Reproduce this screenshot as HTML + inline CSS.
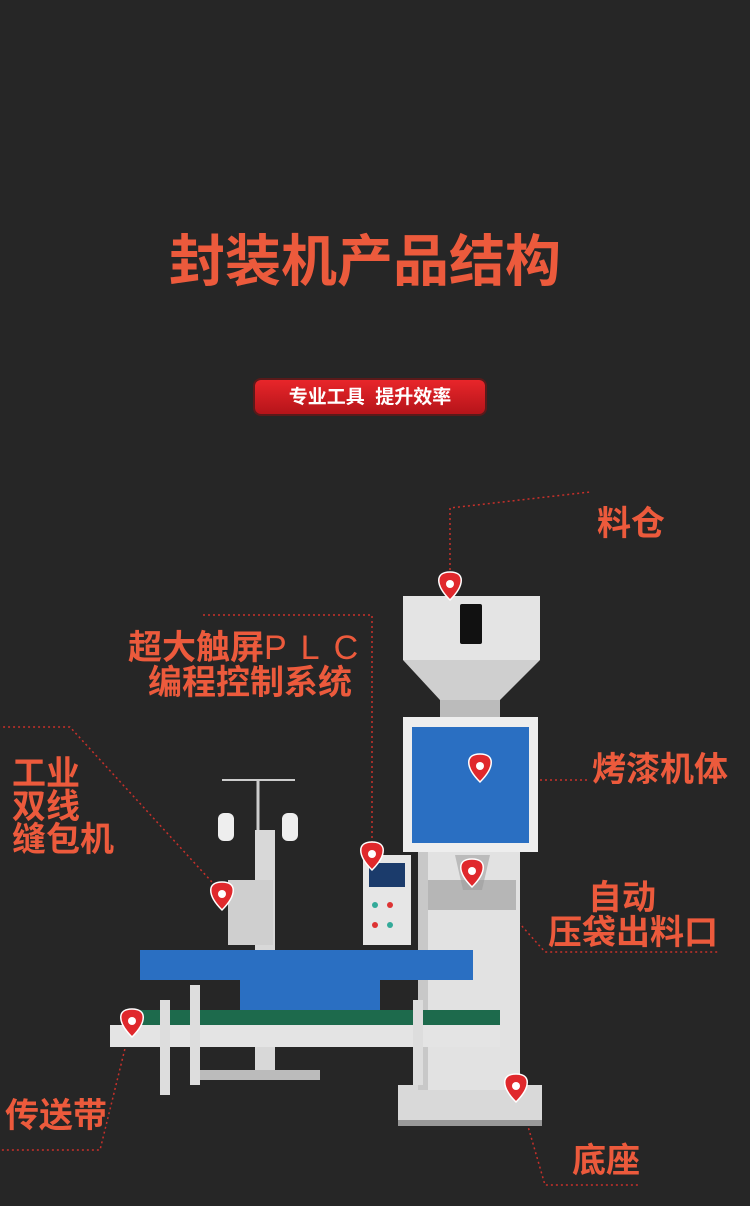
<!DOCTYPE html>
<html><head><meta charset="utf-8">
<style>
html,body{margin:0;padding:0;background:#262626;}
body{width:750px;height:1206px;position:relative;overflow:hidden;font-family:"Liberation Sans","Noto Sans CJK SC",sans-serif;}
.t{position:absolute;color:#ec5a3c;font-weight:bold;white-space:nowrap;font-size:34px;line-height:34px;}
</style></head><body>
<div class="t" style="left:-10px;width:750px;text-align:center;top:234px;font-size:56px;line-height:56px;">封装机产品结构</div>
<div style="position:absolute;left:255px;top:380px;width:230px;height:34px;border-radius:6px;background:linear-gradient(#e8262a,#b5141a);box-shadow:0 0 0 2px #5a1a1a;"></div>
<div class="t" style="left:255px;width:230px;text-align:center;top:386px;font-size:19px;line-height:24px;color:#fff;">专业工具&nbsp;&nbsp;提升效率</div>

<svg width="750" height="1206" style="position:absolute;left:0;top:0">
<g fill="none" stroke="#c8302a" stroke-width="1.5" stroke-dasharray="2,3">
<polyline points="450,585 450,508 590,492"/>
<polyline points="480,765 480,780 590,780"/>
<polyline points="372,853 372,615 200,615"/>
<polyline points="222,893 70,727 0,727"/>
<polyline points="472,870 545,952 720,952"/>
<polyline points="132,1020 100,1150 0,1150"/>
<polyline points="516,1085 545,1185 640,1185"/>
</g>
<rect x="398" y="1085" width="144" height="40" fill="#d9d9d9"/>
<rect x="398" y="1120" width="144" height="6" fill="#999"/>
<rect x="418" y="850" width="102" height="240" fill="#e2e2e2"/>
<rect x="418" y="850" width="10" height="240" fill="#c8c8c8"/>
<rect x="403" y="717" width="135" height="135" fill="#eeeeee"/>
<rect x="412" y="727" width="117" height="116" fill="#2a6fc2"/>
<rect x="403" y="596" width="137" height="64" fill="#e4e4e4"/>
<polygon points="403,660 540,660 500,700 440,700" fill="#cfcfcf"/>
<rect x="440" y="700" width="60" height="17" fill="#bbb"/>
<rect x="460" y="604" width="22" height="40" fill="#111" rx="2"/>
<polygon points="455,855 490,855 482,890 463,890" fill="#bbb"/>
<rect x="428" y="880" width="88" height="30" fill="#9a9a9a" opacity="0.6"/>
<rect x="363" y="855" width="48" height="90" fill="#e6e6e6"/>
<rect x="369" y="863" width="36" height="24" fill="#1b3b6b"/>
<g fill="#3a9"><circle cx="375" cy="905" r="3"/><circle cx="390" cy="905" r="3" fill="#d33"/><circle cx="375" cy="925" r="3" fill="#d33"/><circle cx="390" cy="925" r="3"/></g>
<rect x="255" y="830" width="20" height="250" fill="#d8d8d8"/>
<rect x="200" y="1070" width="120" height="10" fill="#bbb"/>
<line x1="258" y1="780" x2="258" y2="830" stroke="#ccc" stroke-width="3"/>
<line x1="222" y1="780" x2="295" y2="780" stroke="#ccc" stroke-width="2"/>
<rect x="218" y="813" width="16" height="28" fill="#eee" rx="6"/>
<rect x="282" y="813" width="16" height="28" fill="#eee" rx="6"/>
<rect x="228" y="880" width="45" height="65" fill="#cfcfcf"/>
<rect x="140" y="950" width="333" height="30" fill="#2a6fc2"/>
<rect x="240" y="980" width="140" height="30" fill="#2a6fc2"/>
<rect x="140" y="1010" width="360" height="15" fill="#1d6a4c"/>
<rect x="110" y="1025" width="390" height="22" fill="#e4e4e4"/>
<rect x="160" y="1000" width="10" height="95" fill="#ddd"/>
<rect x="190" y="985" width="10" height="100" fill="#ddd"/>
<rect x="413" y="1000" width="10" height="85" fill="#ddd"/>
<g fill="#e0282c" stroke="#fff" stroke-width="1.5">
<path d="M450,600 C435,585 435,572 450,572 C465,572 465,585 450,600Z"/>
<path d="M480,782 C465,767 465,754 480,754 C495,754 495,767 480,782Z"/>
<path d="M372,870 C357,855 357,842 372,842 C387,842 387,855 372,870Z"/>
<path d="M222,910 C207,895 207,882 222,882 C237,882 237,895 222,910Z"/>
<path d="M472,887 C457,872 457,859 472,859 C487,859 487,872 472,887Z"/>
<path d="M132,1037 C117,1022 117,1009 132,1009 C147,1009 147,1022 132,1037Z"/>
<path d="M516,1102 C501,1087 501,1074 516,1074 C531,1074 531,1087 516,1102Z"/>
</g>
<g fill="#fff"><circle cx="450" cy="584" r="4"/><circle cx="480" cy="766" r="4"/><circle cx="372" cy="854" r="4"/><circle cx="222" cy="894" r="4"/><circle cx="472" cy="871" r="4"/><circle cx="132" cy="1021" r="4"/><circle cx="516" cy="1086" r="4"/></g>
</svg>

<div class="t" style="left:597px;top:507px;">料仓</div>
<div class="t" style="left:128px;top:631px;">超大触屏<span style="letter-spacing:14px;font-weight:normal;">PLC</span></div>
<div class="t" style="left:148px;top:666px;">编程控制系统</div>
<div class="t" style="left:12px;top:758px;line-height:33px;">工业<br>双线<br>缝包机</div>
<div class="t" style="left:592px;top:753px;">烤漆机体</div>
<div class="t" style="left:588px;top:881px;">自动</div>
<div class="t" style="left:548px;top:916px;">压袋出料口</div>
<div class="t" style="left:5px;top:1099px;">传送带</div>
<div class="t" style="left:572px;top:1144px;">底座</div>
</body></html>
